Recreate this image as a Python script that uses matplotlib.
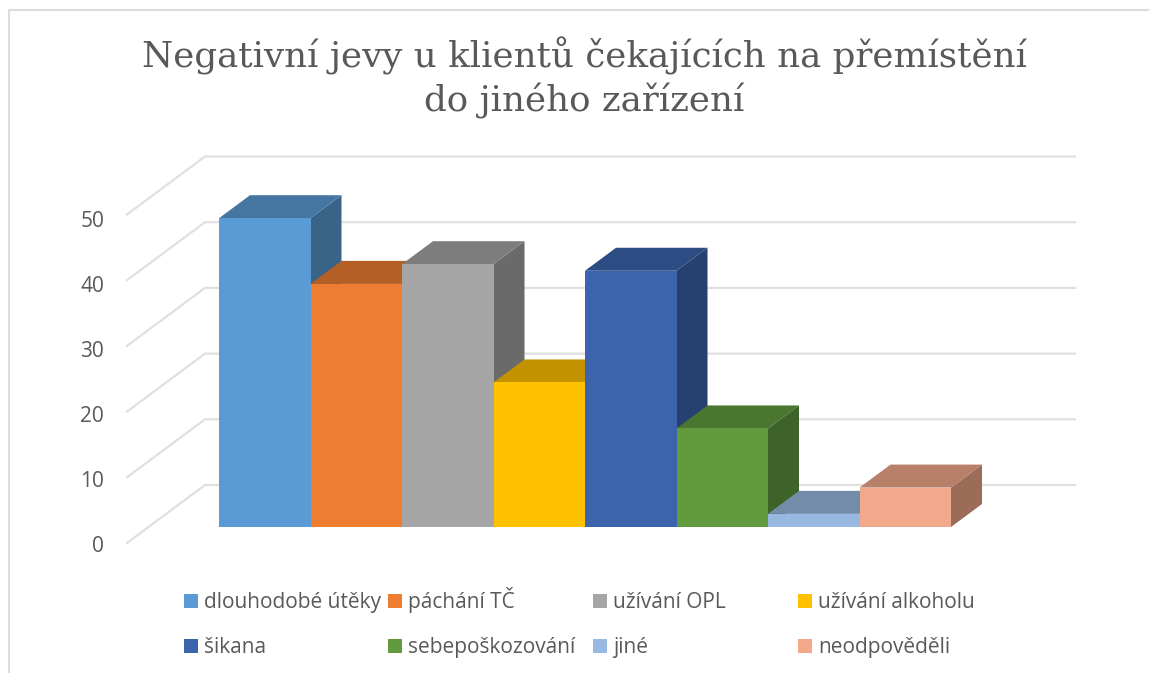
import numpy as np
import matplotlib
matplotlib.use('Agg')
import matplotlib.pyplot as plt
from matplotlib.patches import Polygon, Rectangle
from matplotlib.transforms import Affine2D

# hodnoty
categories = ['dlouhodobé útěky', 'páchání TČ', 'užívání OPL', 'užívání alkoholu',
              'šikana', 'sebepoškozování', 'jiné', 'neodpověděli']
values = [47, 37, 40, 22, 39, 15, 2, 6]
colors = ['#5B9BD5', '#ED7D31', '#A5A5A5', '#FFC000',
          '#3B64AD', '#619B3E', '#97B8E0', '#F2A88A']
y_ticks = [0, 10, 20, 30, 40, 50]
title = 'Negativní jevy u klientů čekajících na přemístění\ndo jiného zařízení'

W, H = 1149, 673
PX_CAT = 91.5    # px na jednu kategorii
PX_VAL = 6.57    # px na jednotku
X0, Y0 = 219, 527   # levy dolni roh prvniho sloupce

fig = plt.figure(figsize=(W / 100, H / 100), dpi=100, facecolor='white')
ax = fig.add_axes([0, 0, 1, 1])
ax.set_xlim(-X0 / PX_CAT, (W - X0) / PX_CAT)
ax.set_ylim((Y0 - H) / PX_VAL, Y0 / PX_VAL)
ax.axis('off')

# pixelove souradnice pro ramecek, popisky a legendu
px = Affine2D().scale(1, -1).translate(0, H)

text_color = '#595959'
grid_color = '#E0E0E0'
plt.rcParams['font.family'] = ['Open Sans', 'DejaVu Sans']

# ramecek grafu
ax.plot([9, 9, W], [H, 10, 10], color='#DCDCDC', lw=1.5, transform=px, clip_on=False)

# hloubka sloupcu
depth_x = 31 / PX_CAT
depth_y = 23 / PX_VAL

# mrizka: predni a zadni hrana
front_x = (127 - X0) / PX_CAT
back_x = (205 - X0) / PX_CAT
end_x = (1075 - X0) / PX_CAT
front_0 = (Y0 - 543) / PX_VAL
back_0 = (Y0 - 485) / PX_VAL
for t in y_ticks:
    ax.plot([front_x, back_x, end_x], [front_0 + t, back_0 + t, back_0 + t],
            color=grid_color, lw=1.6, solid_joinstyle='miter', zorder=1)
    ax.text(104, 552 - t * 6.5, str(t), transform=px, ha='right', va='baseline',
            fontsize=15, color=text_color)

# sloupce zleva doprava, dalsi prekryva bok predchoziho
for i, (v, c) in enumerate(zip(values, colors)):
    z = 2 + i
    rgb = np.array(matplotlib.colors.to_rgb(c))
    top = [(i, v), (i + 1, v), (i + 1 + depth_x, v + depth_y), (i + depth_x, v + depth_y)]
    side = [(i + 1, 0), (i + 1 + depth_x, depth_y), (i + 1 + depth_x, v + depth_y), (i + 1, v)]
    ax.add_patch(Polygon(side, closed=True, fc=rgb * 0.64, ec='none', zorder=z))
    ax.add_patch(Polygon(top, closed=True, fc=rgb * 0.76, ec='none', zorder=z))
    ax.bar(i, v, width=1, align='edge', color=c, zorder=z + 0.5)

# titulek
fig.text(584 / W, 1 - 78 / H, title, ha='center', va='center', fontsize=25.7,
         family='DejaVu Serif', color=text_color, linespacing=1.3)

# legenda
leg_x = [184, 388, 593, 798]
leg_y = [601, 646]
for i, (name, c) in enumerate(zip(categories, colors)):
    lx = leg_x[i % 4]
    ly = leg_y[i // 4]
    ax.add_patch(Rectangle((lx, ly - 7), 14, 14, fc=c, ec='none', transform=px, zorder=20))
    ax.text(lx + 20, ly + 7, name, transform=px, ha='left', va='baseline',
            fontsize=15, color=text_color, zorder=20)

fig.savefig('out.png', dpi=100)
